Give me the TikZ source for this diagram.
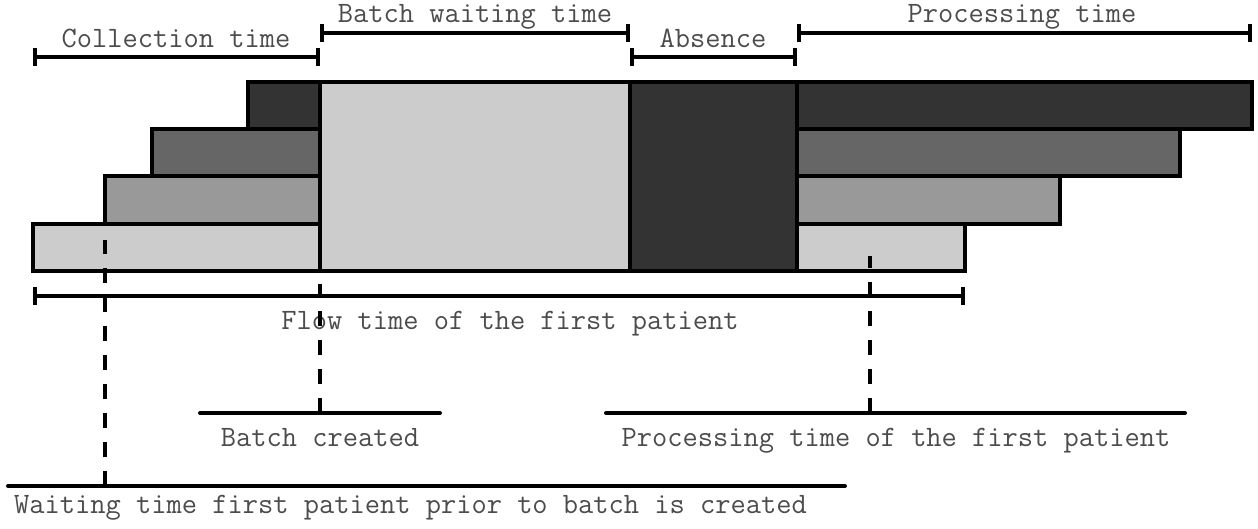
\documentclass[tikz,border=0pt]{standalone}
\usepackage{fontspec}
\usetikzlibrary{arrows.meta}

\begin{document}
\begin{tikzpicture}[x=1pt, y=-1pt]
\tikzset{ lbl/.style={font=\ttfamily\fontsize{29.6}{34}\selectfont, text=black!70, inner sep=0pt, anchor=base},
  span/.style={line width=4pt, {Bar[width=18pt,line width=4pt]}-{Bar[width=18pt,line width=4pt]}},
  rule/.style={line width=4pt, line cap=round},
  dashmark/.style={line width=4pt, dash pattern=on 15pt off 14pt},
  box/.style={line width=4pt, draw=black, line join=miter},
}

\useasboundingbox (0,0) rectangle (1258,529);

%\draw [lightgray, dashed](0,0) grid (1258,529);

% patients: collection part and processing part
\foreach \l/\r/\c [count=\i] in {248/1252/80, 152/1180/60, 105/1060/40, 33/965/20}{
  \pgfmathsetmacro{\t}{82+(\i-1)*47.25}
  \pgfmathsetmacro{\b}{\t+47.25}
  \draw [box, fill=black!\c] (\l,\t) rectangle (320,\b);
  \draw [box, fill=black!\c] (797,\t) rectangle (\r,\b);
}

\draw [box, fill=black!20] (320,82) rectangle (630,271);
\draw [box, fill=black!80] (630,82) rectangle (797,271);

% spans on top
\coordinate (colA) at (33,57);
\coordinate (colB) at (320,57);
\coordinate (batA) at (320,33);
\coordinate (batB) at (630,33);
\coordinate (absA) at (630,57);
\coordinate (absB) at (797,57);
\coordinate (proA) at (797,33);
\coordinate (proB) at (1252,33);

\draw [span] (colA) -- (colB);
\draw [span] (batA) -- (batB);
\draw [span] (absA) -- (absB);
\draw [span] (proA) -- (proB);

\node [lbl] (collection) at (176,48) {Collection time};
\node [lbl] (batchwait) at (475,23) {Batch waiting time};
\node [lbl] (absence) at (713,48) {Absence};
\node [lbl] (processing) at (1022,23) {Processing time};

% flow time
\coordinate (flowA) at (33,296);
\coordinate (flowB) at (965,296);
\draw [span] (flowA) -- (flowB);
\node [lbl] (flow) at (510,329) {Flow time of the first patient};

% events below
\coordinate (crL) at (200,413);
\coordinate (crR) at (440,413);
\coordinate (ptL) at (606,413);
\coordinate (ptR) at (1185,413);
\coordinate (wtL) at (8,486);
\coordinate (wtR) at (845,486);

\draw [rule] (crL) -- (crR);
\draw [rule] (ptL) -- (ptR);
\draw [rule] (wtL) -- (wtR);

\coordinate (crM) at (320,413);
\coordinate (ptM) at (870,413);
\coordinate (wtM) at (105,486);

\draw [dashmark] (crM) -- (320,284);
\draw [dashmark] (ptM) -- (870,256);
\draw [dashmark] (wtM) -- (105,240);

\node [lbl] (created) at (320,446) {Batch created};
\node [lbl] (firstproc) at (896,446) {Processing time of the first patient};
\node [lbl, anchor=base west] (waiting) at (14,513) {Waiting time first patient prior to batch is created};

\end{tikzpicture}
\end{document}
